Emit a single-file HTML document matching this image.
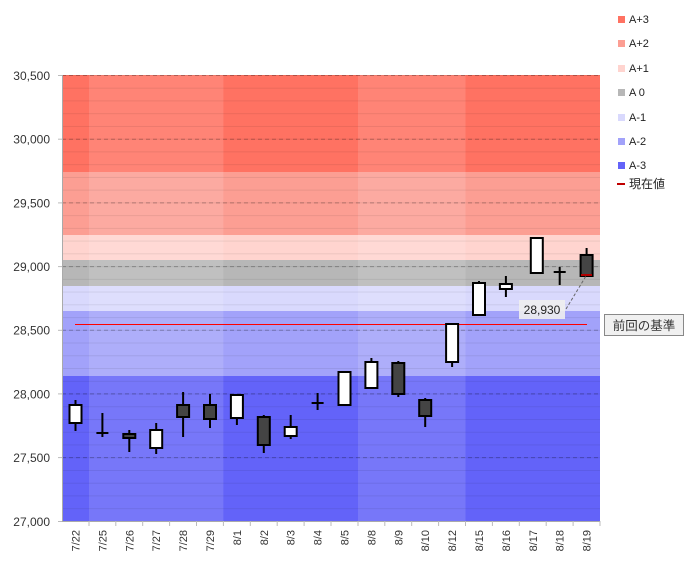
<!DOCTYPE html>
<html><head><meta charset="utf-8"><style>
html,body{margin:0;padding:0;background:#fff;width:692px;height:572px;overflow:hidden}
svg{display:block;font-family:"Liberation Sans","Noto Sans CJK JP",sans-serif}
</style></head><body>
<svg width="692" height="572" viewBox="0 0 692 572" xmlns="http://www.w3.org/2000/svg">
<defs>
<pattern id="minor" patternUnits="userSpaceOnUse" x="0" y="75" width="10" height="12.743">
<rect x="0" y="0" width="10" height="0.8" fill="rgba(0,0,0,0.09)"/>
</pattern>
</defs>
<g>
<rect x="62" y="75" width="538" height="97" fill="#ff7262"/>
<rect x="62" y="172" width="538" height="63" fill="#fc9e93"/>
<rect x="62" y="235" width="538" height="25" fill="#ffd4cf"/>
<rect x="62" y="260" width="538" height="26" fill="#b7b7b7"/>
<rect x="62" y="286" width="538" height="25" fill="#d9d9fd"/>
<rect x="62" y="311" width="538" height="65" fill="#a2a2fa"/>
<rect x="62" y="376" width="538" height="145" fill="#6363f9"/>
</g>
<g fill="#fff" opacity="0.13">
<rect x="89" y="75" width="134.4" height="446"/>
<rect x="358" y="75" width="107.5" height="446"/>
</g>
<rect x="62" y="75" width="538" height="446" fill="url(#minor)"/>
<g stroke="rgba(0,0,0,0.25)" stroke-dasharray="4,3" stroke-width="1">
<line x1="62" y1="75.5" x2="600" y2="75.5"/>
<line x1="62" y1="139.2" x2="600" y2="139.2"/>
<line x1="62" y1="202.9" x2="600" y2="202.9"/>
<line x1="62" y1="266.6" x2="600" y2="266.6"/>
<line x1="62" y1="330.3" x2="600" y2="330.3"/>
<line x1="62" y1="393.9" x2="600" y2="393.9"/>
<line x1="62" y1="457.6" x2="600" y2="457.6"/>
</g>
<line x1="62.5" y1="75" x2="62.5" y2="521" stroke="#aaa"/>
<line x1="62" y1="521.5" x2="600" y2="521.5" stroke="#aaa"/>
<g stroke="#bbb">
<line x1="58" y1="75.5" x2="62" y2="75.5"/><line x1="58" y1="139.2" x2="62" y2="139.2"/><line x1="58" y1="202.9" x2="62" y2="202.9"/><line x1="58" y1="266.6" x2="62" y2="266.6"/><line x1="58" y1="330.3" x2="62" y2="330.3"/><line x1="58" y1="393.9" x2="62" y2="393.9"/><line x1="58" y1="457.6" x2="62" y2="457.6"/><line x1="58" y1="521.5" x2="62" y2="521.5"/>
<line x1="89" y1="521" x2="89" y2="526"/><line x1="115.8" y1="521" x2="115.8" y2="526"/><line x1="142.7" y1="521" x2="142.7" y2="526"/><line x1="169.6" y1="521" x2="169.6" y2="526"/><line x1="196.5" y1="521" x2="196.5" y2="526"/><line x1="223.4" y1="521" x2="223.4" y2="526"/><line x1="250.3" y1="521" x2="250.3" y2="526"/><line x1="277.2" y1="521" x2="277.2" y2="526"/><line x1="304.1" y1="521" x2="304.1" y2="526"/><line x1="331" y1="521" x2="331" y2="526"/><line x1="358" y1="521" x2="358" y2="526"/><line x1="384.8" y1="521" x2="384.8" y2="526"/><line x1="411.7" y1="521" x2="411.7" y2="526"/><line x1="438.6" y1="521" x2="438.6" y2="526"/><line x1="465.5" y1="521" x2="465.5" y2="526"/><line x1="492.4" y1="521" x2="492.4" y2="526"/><line x1="519.3" y1="521" x2="519.3" y2="526"/><line x1="546.2" y1="521" x2="546.2" y2="526"/><line x1="573.1" y1="521" x2="573.1" y2="526"/><line x1="600" y1="521" x2="600" y2="526"/>
</g>
<g font-size="12" fill="#333" text-anchor="end">
<text x="50" y="80">30,500</text><text x="50" y="143.5">30,000</text><text x="50" y="207.5">29,500</text><text x="50" y="271">29,000</text><text x="50" y="334.5">28,500</text><text x="50" y="398.5">28,000</text><text x="50" y="462">27,500</text><text x="50" y="526">27,000</text>
</g>
<g font-size="11" fill="#333" text-anchor="end">
<text transform="translate(79.5,530) rotate(-90)">7/22</text>
<text transform="translate(106.4,530) rotate(-90)">7/25</text>
<text transform="translate(133.3,530) rotate(-90)">7/26</text>
<text transform="translate(160.2,530) rotate(-90)">7/27</text>
<text transform="translate(187.1,530) rotate(-90)">7/28</text>
<text transform="translate(214,530) rotate(-90)">7/29</text>
<text transform="translate(240.9,530) rotate(-90)">8/1</text>
<text transform="translate(267.8,530) rotate(-90)">8/2</text>
<text transform="translate(294.7,530) rotate(-90)">8/3</text>
<text transform="translate(321.6,530) rotate(-90)">8/4</text>
<text transform="translate(348.5,530) rotate(-90)">8/5</text>
<text transform="translate(375.4,530) rotate(-90)">8/8</text>
<text transform="translate(402.3,530) rotate(-90)">8/9</text>
<text transform="translate(429.2,530) rotate(-90)">8/10</text>
<text transform="translate(456.1,530) rotate(-90)">8/12</text>
<text transform="translate(483,530) rotate(-90)">8/15</text>
<text transform="translate(509.9,530) rotate(-90)">8/16</text>
<text transform="translate(536.8,530) rotate(-90)">8/17</text>
<text transform="translate(563.7,530) rotate(-90)">8/18</text>
<text transform="translate(590.6,530) rotate(-90)">8/19</text>
</g>
<line x1="75" y1="324.5" x2="587" y2="324.5" stroke="#ff0000" stroke-width="1"/>
<g stroke="#000" stroke-width="2">
<line x1="75.5" y1="400" x2="75.5" y2="431"/><rect x="69.5" y="405" width="12" height="18" fill="#fff"/>
<line x1="102.4" y1="413" x2="102.4" y2="437"/><line x1="96.4" y1="433" x2="108.4" y2="433"/>
<line x1="129.3" y1="430" x2="129.3" y2="452"/><rect x="123.3" y="434" width="12" height="4" fill="#444"/>
<line x1="156.2" y1="423" x2="156.2" y2="454"/><rect x="150.2" y="430" width="12" height="18" fill="#fff"/>
<line x1="183.1" y1="392" x2="183.1" y2="437"/><rect x="177.1" y="405" width="12" height="12" fill="#444"/>
<line x1="210" y1="394" x2="210" y2="428"/><rect x="204" y="405" width="12" height="14" fill="#444"/>
<line x1="236.9" y1="395" x2="236.9" y2="425"/><rect x="230.9" y="395" width="12" height="23" fill="#fff"/>
<line x1="263.8" y1="415" x2="263.8" y2="453"/><rect x="257.8" y="417" width="12" height="28" fill="#444"/>
<line x1="290.7" y1="415" x2="290.7" y2="439"/><rect x="284.7" y="427" width="12" height="9" fill="#fff"/>
<line x1="317.6" y1="393" x2="317.6" y2="410"/><line x1="311.6" y1="403" x2="323.6" y2="403"/>
<line x1="344.5" y1="371" x2="344.5" y2="405"/><rect x="338.5" y="372" width="12" height="33" fill="#fff"/>
<line x1="371.4" y1="358" x2="371.4" y2="388"/><rect x="365.4" y="362" width="12" height="26" fill="#fff"/>
<line x1="398.3" y1="361" x2="398.3" y2="397"/><rect x="392.3" y="363" width="12" height="31" fill="#444"/>
<line x1="425.2" y1="398" x2="425.2" y2="427"/><rect x="419.2" y="400" width="12" height="16" fill="#444"/>
<line x1="452.1" y1="323" x2="452.1" y2="367"/><rect x="446.1" y="324" width="12" height="38" fill="#fff"/>
<line x1="479" y1="281" x2="479" y2="315"/><rect x="473" y="283" width="12" height="32" fill="#fff"/>
<line x1="505.9" y1="276" x2="505.9" y2="297"/><rect x="499.9" y="284" width="12" height="5" fill="#fff"/>
<rect x="530.8" y="238" width="12" height="35" fill="#fff"/>
<line x1="559.7" y1="267" x2="559.7" y2="285"/><line x1="553.7" y1="272" x2="565.7" y2="272"/>
<line x1="586.6" y1="248" x2="586.6" y2="256"/><rect x="580.6" y="255" width="12" height="21" fill="#444"/>
</g>
<line x1="581" y1="275" x2="592" y2="275" stroke="#b00000" stroke-width="2"/>
<line x1="566" y1="309" x2="586" y2="276" stroke="#666" stroke-dasharray="3,2"/>
<rect x="519" y="300" width="46" height="19" fill="#eeeeee" opacity="0.9"/>
<text x="542" y="314" font-size="12" fill="#222" text-anchor="middle">28,930</text>
<rect x="604.5" y="314.5" width="79" height="21" fill="#f0f0f0" stroke="#888"/>
<text x="644" y="330" font-size="12.5" fill="#333" text-anchor="middle">前回の基準</text>
<g font-size="11" fill="#222">
<rect x="618" y="16" width="7" height="7" fill="#ff7262"/><text x="629" y="23">A+3</text>
<rect x="618" y="40" width="7" height="7" fill="#fc9e93"/><text x="629" y="47">A+2</text>
<rect x="618" y="65" width="7" height="7" fill="#ffd4cf"/><text x="629" y="72">A+1</text>
<rect x="618" y="89" width="7" height="7" fill="#b7b7b7"/><text x="629" y="96">A 0</text>
<rect x="618" y="114" width="7" height="7" fill="#d9d9fd"/><text x="629" y="121">A-1</text>
<rect x="618" y="138" width="7" height="7" fill="#a2a2fa"/><text x="629" y="145">A-2</text>
<rect x="618" y="162" width="7" height="7" fill="#6363f9"/><text x="629" y="169">A-3</text>
<line x1="617" y1="184" x2="625" y2="184" stroke="#c00000" stroke-width="2"/><text x="629" y="188" font-size="12">現在値</text>
</g>
</svg>
</body></html>
